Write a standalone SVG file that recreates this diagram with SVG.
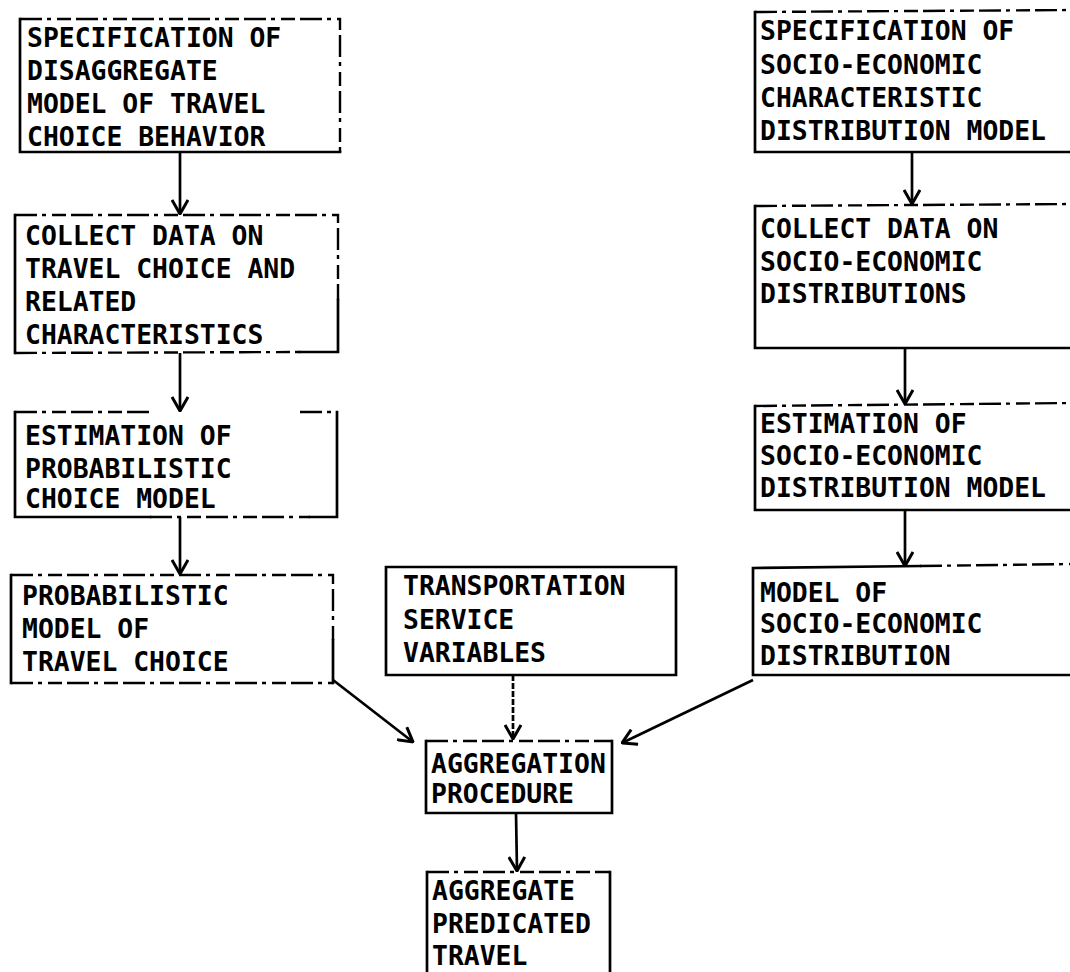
<svg xmlns="http://www.w3.org/2000/svg" width="1070" height="972" viewBox="0 0 1070 972">
  <style>
    .bx { fill: none; stroke: #000; stroke-width: 2.7; stroke-linecap: square; }
    .dash { fill: none; stroke: #000; stroke-width: 2.4; stroke-dasharray: 22 5 4 6 14 5; }
    .lbl { font-family: "DejaVu Sans Mono", "Liberation Mono", monospace; font-weight: bold; font-size: 26.4px; fill: #000; }
    .ln { fill: none; stroke: #000; stroke-width: 2.7; }
    .ln-dot { fill: none; stroke: #000; stroke-width: 2.7; stroke-dasharray: 6 2; }
  </style>
  <defs>
    <marker id="vee" viewBox="0 0 16 18" refX="15" refY="9" markerWidth="16" markerHeight="18" markerUnits="userSpaceOnUse" orient="auto">
      <path d="M1,1 L15,9 L1,17" fill="none" stroke="#000" stroke-width="3" stroke-linejoin="miter"/>
    </marker>
  </defs>
  <rect width="1070" height="972" fill="#fff"/>

  <!-- left column -->
  <g id="spec-disaggregate">
    <path class="bx" d="M20,19 L20,152 L340,152"/>
    <path class="dash" d="M20,19 L340,19 L340,152"/>
    <text class="lbl" x="27" y="47">SPECIFICATION OF</text>
    <text class="lbl" x="27" y="80">DISAGGREGATE</text>
    <text class="lbl" x="27" y="113">MODEL OF TRAVEL</text>
    <text class="lbl" x="27" y="146">CHOICE BEHAVIOR</text>
  </g>
  <g id="collect-travel">
    <path class="bx" d="M15,215 L15,353 M300,352 L338,352 L338,300"/>
    <path class="dash" d="M15,215 L338,215 L338,300 M15,353 L300,352"/>
    <text class="lbl" x="25" y="245">COLLECT DATA ON</text>
    <text class="lbl" x="25" y="278">TRAVEL CHOICE AND</text>
    <text class="lbl" x="25" y="311">RELATED</text>
    <text class="lbl" x="25" y="344">CHARACTERISTICS</text>
  </g>
  <g id="estimate-choice">
    <path class="bx" d="M15,412 L15,517 L150,517 M310,517 L337,517 L337,412"/>
    <path class="dash" d="M15,412 L150,412 M300,412 L337,412 M150,517 L310,517"/>
    <text class="lbl" x="25" y="445">ESTIMATION OF</text>
    <text class="lbl" x="25" y="478">PROBABILISTIC</text>
    <text class="lbl" x="25" y="508">CHOICE MODEL</text>
  </g>
  <g id="prob-model">
    <path class="bx" d="M11,575 L11,683 M333,683 L333,640"/>
    <path class="dash" d="M11,575 L333,575 L333,640 M11,683 L333,683"/>
    <text class="lbl" x="22" y="605">PROBABILISTIC</text>
    <text class="lbl" x="22" y="638">MODEL OF</text>
    <text class="lbl" x="22" y="671">TRAVEL CHOICE</text>
  </g>

  <!-- middle column -->
  <g id="transport-service">
    <path class="bx" d="M386,567 L676,567 L676,675 L386,675 Z"/>
    <text class="lbl" x="403" y="595">TRANSPORTATION</text>
    <text class="lbl" x="403" y="629">SERVICE</text>
    <text class="lbl" x="403" y="662">VARIABLES</text>
  </g>
  <g id="aggregation">
    <path class="bx" d="M426,741 L426,813 L612,813 L612,741"/>
    <path class="dash" d="M426,741 L612,741"/>
    <text class="lbl" x="431" y="773">AGGREGATION</text>
    <text class="lbl" x="431" y="803">PROCEDURE</text>
  </g>
  <g id="aggregate-travel">
    <path class="bx" d="M427,872 L427,972 M610,872 L610,972"/>
    <path class="dash" d="M427,872 L610,872"/>
    <text class="lbl" x="432" y="900">AGGREGATE</text>
    <text class="lbl" x="432" y="933">PREDICATED</text>
    <text class="lbl" x="432" y="965">TRAVEL</text>
  </g>

  <!-- right column -->
  <g id="spec-socio">
    <path class="bx" d="M755,12 L755,152 L1075,152"/>
    <path class="dash" d="M755,12 L1075,10"/>
    <text class="lbl" x="760" y="40">SPECIFICATION OF</text>
    <text class="lbl" x="760" y="74">SOCIO-ECONOMIC</text>
    <text class="lbl" x="760" y="107">CHARACTERISTIC</text>
    <text class="lbl" x="760" y="140">DISTRIBUTION MODEL</text>
  </g>
  <g id="collect-socio">
    <path class="bx" d="M755,206 L755,348 L1075,348"/>
    <path class="dash" d="M755,206 L1075,204"/>
    <text class="lbl" x="760" y="238">COLLECT DATA ON</text>
    <text class="lbl" x="760" y="271">SOCIO-ECONOMIC</text>
    <text class="lbl" x="760" y="303">DISTRIBUTIONS</text>
  </g>
  <g id="estimate-socio">
    <path class="bx" d="M755,406 L755,510 L1075,510"/>
    <path class="dash" d="M755,406 L1075,403"/>
    <text class="lbl" x="760" y="433">ESTIMATION OF</text>
    <text class="lbl" x="760" y="465">SOCIO-ECONOMIC</text>
    <text class="lbl" x="760" y="497">DISTRIBUTION MODEL</text>
  </g>
  <g id="socio-model">
    <path class="bx" d="M753,568 L753,675 L1075,675 M753,568 L920,566"/>
    <path class="dash" d="M920,566 L1075,564"/>
    <text class="lbl" x="760" y="602">MODEL OF</text>
    <text class="lbl" x="760" y="633">SOCIO-ECONOMIC</text>
    <text class="lbl" x="760" y="665">DISTRIBUTION</text>
  </g>

  <!-- connectors -->
  <g id="connectors">
    <path class="ln" d="M180,152 L180,214" marker-end="url(#vee)"/>
    <path class="ln" d="M180,353 L180,411" marker-end="url(#vee)"/>
    <path class="ln" d="M180,517 L180,574" marker-end="url(#vee)"/>
    <path class="ln" d="M912,152 L912,204" marker-end="url(#vee)"/>
    <path class="ln" d="M905,348 L905,404" marker-end="url(#vee)"/>
    <path class="ln" d="M905,510 L905,566" marker-end="url(#vee)"/>
    <path class="ln" d="M333,680 L413,742" marker-end="url(#vee)"/>
    <path class="ln-dot" d="M513,675 L513,739" marker-end="url(#vee)"/>
    <path class="ln" d="M753,680 L622,743" marker-end="url(#vee)"/>
    <path class="ln" d="M516,813 L517,871" marker-end="url(#vee)"/>
  </g>
</svg>
